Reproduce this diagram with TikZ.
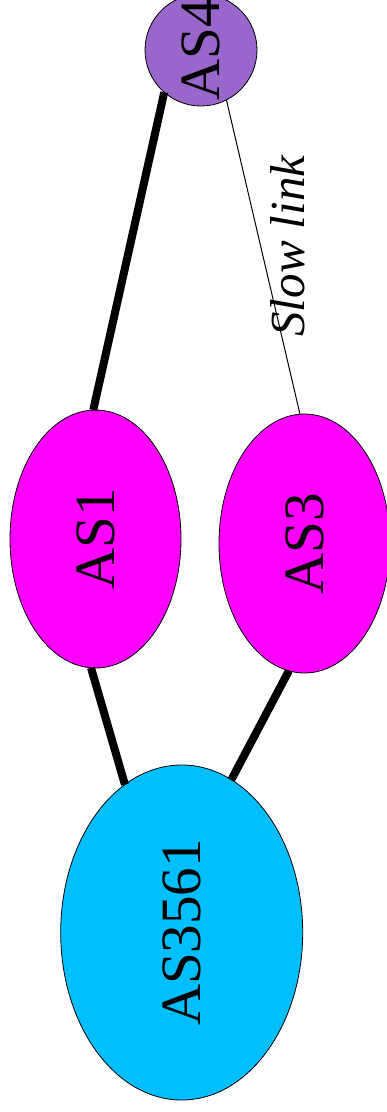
\documentclass[tikz,border=0pt]{standalone}
\usepackage{fontspec}
\setmainfont{Liberation Serif}
\usetikzlibrary{shapes.geometric}
\definecolor{aspurple}{HTML}{9966CC}
\definecolor{asmagenta}{HTML}{FF00FF}
\definecolor{ascyan}{HTML}{00BFFF}
\begin{document}
\begin{tikzpicture}[x=1pt,y=-1pt,
  asnode/.style={draw=black, line width=0.8pt, inner sep=0pt, outer sep=0pt,
    font=\fontsize{57}{60}\selectfont},
  fatlink/.style={line width=8pt, line cap=butt},
  thinlink/.style={line width=1pt}]
\useasboundingbox (0,0) rectangle (386,1112);

% autonomous systems
\node[asnode, circle, minimum size=112pt, fill=aspurple] (as4) at (201,50) {\rotatebox{90}{AS4}};
\node[asnode, ellipse, minimum width=171pt, minimum height=258pt, fill=asmagenta] (as1) at (95.5,539) {\rotatebox{90}{AS1}};
\node[asnode, ellipse, minimum width=171pt, minimum height=259pt, fill=asmagenta] (as3) at (304.5,543.5) {\rotatebox{90}{AS3}};
\node[asnode, ellipse, minimum width=242pt, minimum height=335pt, fill=ascyan] (as3561) at (181.7,932.5) {\rotatebox{90}{AS3561}};

% links
\draw[fatlink] (as1.91) -- (as4.229);
\draw[fatlink] (as1.268.5) -- (as3561.111.3);
\draw[fatlink] (as3.263.8) -- (as3561.72.6);
\draw[thinlink] (as3.92) -- (as4.297);

\node[font=\fontsize{49}{52}\selectfont\itshape, inner sep=0pt] (slow) at (288,246) {\rotatebox{90}{Slow link}};
\end{tikzpicture}
\end{document}
